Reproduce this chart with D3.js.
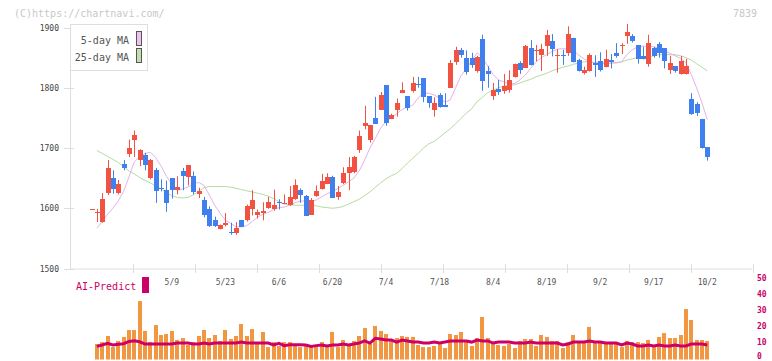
<!DOCTYPE html>
<html>
<head>
<meta charset="utf-8">
<script src="https://cdn.jsdelivr.net/npm/d3@7"></script>
<style>
  body { margin: 0; background: #fff; }
  svg { display: block; font-family: "DejaVu Sans Mono", monospace; }
</style>
</head>
<body>
<div id="chart"></div>
<script>
// trading days (2025)
const dates = [
  "4/15","4/16","4/17","4/18","4/21","4/22","4/23","4/24","4/25","4/28",
  "4/30","5/1","5/2","5/7","5/8","5/9","5/12","5/13","5/14","5/15",
  "5/16","5/19","5/20","5/21","5/22","5/23","5/26","5/27","5/28","5/29",
  "5/30","6/2","6/3","6/4","6/5","6/6","6/9","6/10","6/11","6/12",
  "6/13","6/16","6/17","6/18","6/19","6/20","6/23","6/24","6/25","6/26",
  "6/27","6/30","7/1","7/2","7/3","7/4","7/7","7/8","7/9","7/10",
  "7/11","7/14","7/15","7/16","7/17","7/18","7/22","7/23","7/24","7/25",
  "7/28","7/29","7/30","7/31","8/1","8/4","8/5","8/6","8/7","8/8",
  "8/12","8/13","8/14","8/15","8/18","8/19","8/20","8/21","8/22","8/25",
  "8/26","8/27","8/28","8/29","9/1","9/2","9/3","9/4","9/5","9/8",
  "9/9","9/10","9/11","9/12","9/16","9/17","9/18","9/19","9/22","9/24",
  "9/25","9/26","9/29","9/30","10/1","10/2"
];

const opens = [
  1598,1592,1577,1625,1651,1625,1674,1690,1713,1680,
  1688,1650,1663,1633,1631,1650,1630,1661,1652,1653,
  1624,1613,1598,1580,1565,1572,1561,1559,1580,1580,
  1599,1588,1592,1601,1599,1610,1608,1605,1616,1631,
  1620,1589,1620,1632,1640,1652,1618,1642,1658,1660,
  1696,1737,1713,1750,1763,1804,1748,1763,1792,1786,
  1795,1806,1816,1786,1763,1788,1772,1800,1842,1862,
  1850,1849,1827,1881,1827,1787,1798,1795,1796,1818,
  1841,1833,1866,1862,1855,1870,1878,1854,1855,1857,
  1883,1846,1825,1828,1841,1844,1835,1846,1858,1870,
  1886,1886,1871,1853,1840,1866,1873,1866,1829,1836,
  1823,1823,1781,1773,1748,1701
];
const highs = [
  1598,1599,1625,1680,1663,1647,1680,1714,1729,1698,
  1692,1682,1667,1648,1646,1650,1653,1667,1671,1661,
  1634,1619,1603,1586,1573,1592,1576,1577,1580,1606,
  1630,1598,1610,1619,1631,1615,1623,1637,1648,1633,
  1622,1617,1638,1657,1658,1654,1637,1668,1685,1687,
  1729,1770,1738,1785,1793,1804,1757,1782,1809,1786,
  1818,1818,1816,1786,1784,1791,1791,1846,1868,1866,
  1862,1858,1853,1888,1836,1808,1813,1823,1829,1840,
  1844,1871,1879,1871,1873,1896,1889,1864,1863,1902,
  1883,1848,1835,1857,1854,1859,1863,1856,1874,1874,
  1906,1889,1871,1868,1888,1868,1876,1866,1853,1836,
  1853,1848,1791,1776,1748,1701
];
const lows = [
  1598,1577,1576,1622,1624,1623,1663,1685,1685,1670,
  1663,1648,1609,1628,1594,1616,1623,1630,1638,1623,
  1617,1585,1569,1569,1565,1570,1556,1556,1569,1578,
  1588,1583,1580,1599,1596,1598,1607,1604,1614,1609,
  1587,1589,1619,1631,1640,1617,1614,1640,1630,1658,
  1692,1731,1709,1740,1763,1737,1748,1752,1792,1762,
  1792,1800,1776,1767,1752,1767,1768,1800,1838,1850,
  1822,1833,1825,1795,1800,1780,1788,1790,1792,1817,
  1823,1833,1837,1844,1828,1853,1852,1825,1838,1853,
  1842,1827,1822,1827,1818,1827,1834,1832,1850,1856,
  1873,1875,1840,1847,1835,1850,1850,1832,1823,1825,
  1822,1822,1755,1753,1699,1679
];
const closes = [
  1598,1594,1615,1666,1632,1640,1667,1700,1722,1696,
  1672,1680,1629,1632,1609,1631,1636,1653,1671,1627,
  1629,1588,1570,1570,1573,1575,1559,1567,1569,1604,
  1613,1593,1595,1610,1605,1608,1609,1618,1638,1622,
  1587,1613,1628,1645,1652,1617,1627,1658,1668,1685,
  1720,1741,1738,1740,1788,1742,1755,1775,1796,1766,
  1808,1805,1785,1775,1775,1768,1768,1841,1862,1855,
  1826,1838,1851,1812,1822,1796,1793,1803,1813,1840,
  1829,1869,1837,1863,1864,1888,1864,1855,1854,1889,
  1843,1828,1829,1854,1837,1829,1848,1843,1852,1871,
  1892,1878,1848,1847,1874,1853,1857,1845,1841,1827,
  1844,1836,1757,1758,1700,1685
];

// volume (x10k shares) and AI-Predict
const volumes = [
  0,9.0,10.2,14.0,7.1,10.9,13.4,17.7,17.7,35.7,
  17.1,10.2,20.8,14.6,15.2,17.1,11.5,12.7,8.4,10.2,
  14.0,17.7,12.7,14.6,10.9,17.7,12.1,14.0,21.4,14.0,
  18.3,10.2,16.5,7.1,10.2,7.8,10.2,10.2,7.8,7.1,
  8.4,7.1,7.1,10.2,7.1,16.5,7.1,11.5,8.4,10.9,
  14.0,18.9,9.0,20.2,17.1,15.2,11.5,12.7,14.0,13.4,
  13.4,8.4,7.1,7.1,7.8,9.0,6.5,15.2,14.6,16.5,
  10.2,7.8,12.7,25.8,12.7,9.0,8.4,7.8,9.0,6.5,
  10.9,12.1,12.1,7.8,14.6,13.4,10.9,10.9,6.5,10.2,
  14.6,9.6,9.6,19.6,9.6,9.6,9.0,9.0,9.0,7.1,
  10.9,10.2,10.2,9.6,11.5,7.1,13.4,15.8,12.7,12.7,
  14.6,30.7,23.9,11.5,11.5,10.9
];
const aiPredict = [
  null,7.5,8.4,9.4,8.4,8.8,9.2,10.6,11.0,10.4,
  9.0,9.0,9.0,9.0,9.0,9.0,9.6,9.6,9.6,9.0,
  9.0,9.6,9.0,9.6,9.6,9.6,9.6,9.6,10.2,9.6,
  9.6,9.6,9.6,9.6,8.4,9.4,8.0,8.6,8.6,8.6,
  8.4,7.5,8.0,8.4,7.8,8.4,8.4,9.0,8.4,9.0,
  9.6,10.9,9.6,12.5,12.1,11.5,11.5,10.2,11.5,10.9,
  10.2,10.2,9.6,9.6,10.2,9.6,10.2,10.9,10.9,10.9,
  10.9,10.2,11.5,10.9,10.9,9.6,10.2,10.2,10.2,9.6,
  9.6,9.6,10.2,9.6,9.6,9.6,9.6,9.6,8.4,9.0,
  10.2,10.2,10.2,10.9,10.2,10.2,9.6,9.6,9.6,8.4,
  9.6,9.0,7.8,7.8,8.4,7.8,8.4,7.8,7.8,8.4,
  7.8,7.8,9.0,9.0,9.0,8.4
];

// moving averages
const ma5 = [
  null,1567,1578,1590,1600,1612,1628,1652,1677,1686,
  1691,1693,1684,1670,1653,1640,1630,1632,1635,1640,
  1643,1638,1622,1605,1592,1580,1575,1569,1569,1571,
  1578,1585,1590,1593,1598,1601,1602,1605,1609,1612,
  1612,1611,1614,1619,1624,1628,1633,1638,1644,1650,
  1662,1680,1700,1716,1733,1744,1750,1757,1764,1768,
  1771,1783,1791,1791,1788,1783,1776,1780,1800,1820,
  1832,1845,1858,1850,1836,1822,1813,1810,1806,1807,
  1813,1821,1832,1843,1850,1855,1860,1864,1865,1864,
  1862,1854,1848,1843,1841,1840,1840,1841,1841,1843,
  1855,1863,1868,1869,1869,1868,1865,1862,1857,1853,
  1849,1842,1822,1800,1775,1747
];
const ma25 = [
  null,1696,1691,1686,1681,1676,1669,1662,1657,1651,
  1646,1642,1637,1632,1626,1621,1618,1617,1618,1622,
  1628,1634,1636,1636,1636,1636,1635,1633,1631,1629,
  1627,1625,1623,1620,1616,1611,1607,1606,1605,1605,
  1605,1605,1604,1602,1601,1600,1601,1603,1607,1611,
  1615,1621,1627,1635,1642,1649,1654,1658,1666,1675,
  1683,1691,1700,1707,1711,1718,1725,1732,1740,1749,
  1758,1765,1777,1784,1792,1796,1800,1803,1804,1805,
  1808,1811,1814,1818,1821,1824,1828,1831,1834,1836,
  1839,1841,1843,1843,1842,1842,1841,1841,1842,1843,
  1846,1848,1850,1850,1851,1853,1855,1855,1855,1855,
  1853,1850,1846,1840,1834,1828
];

const priceTicks = [1500, 1600, 1700, 1800, 1900];
const volumeTicks = [0, 10, 20, 30, 40, 50];
const dateLabels = ["5/9","5/23","6/6","6/20","7/4","7/18","8/4","8/19","9/2","9/17","10/2"];

class CandleChart {
  constructor(_config) {
    this.config = {
      parentElement: _config.parentElement,
      width: 772,
      height: 361,
      plotLeft: 70.5,
      plotRight: 752.5,
      firstX: 91.5,
      lastX: 707.3,
      priceTop: 27.5,
      priceBottom: 268.5,
      volTop: 278,
      volBottom: 358.5,
    };
    this.colors = {
      up: "#f25241",
      down: "#4080ee",
      ma5: "#e6b3e6",
      ma25: "#b5dba3",
      volume: "#f29741",
      ai: "#cc0066",
      axis: "#dedede",
      label: "#555",
    };
    this.data = dates.map((d, i) => ({
      date: d,
      open: opens[i], high: highs[i], low: lows[i], close: closes[i],
      volume: volumes[i], ai: aiPredict[i], ma5: ma5[i], ma25: ma25[i],
    }));
    this.initVis();
  }

  initVis() {
    let vis = this;
    const c = vis.config;

    vis.xScale = d3.scalePoint().domain(dates).range([c.firstX, c.lastX]);
    vis.yScale = d3.scaleLinear().domain([1500, 1900]).range([c.priceBottom, c.priceTop]);
    vis.volScale = d3.scaleLinear().domain([0, 50]).range([c.volBottom, c.volTop]);
    // grid divisions along the date axis
    vis.gridScale = d3.scaleLinear().domain([0, 11]).range([c.plotLeft, c.plotRight]);

    vis.svg = d3.select(c.parentElement).append("svg")
      .attr("width", c.width)
      .attr("height", c.height);

    vis.svg.append("rect").attr("width", c.width).attr("height", c.height).attr("fill", "#fff");

    vis.svg.append("text")
      .attr("x", 14).attr("y", 17)
      .attr("font-size", 10).attr("fill", "#c8c8c8")
      .text("(C)https://chartnavi.com/");

    vis.svg.append("text")
      .attr("x", 757).attr("y", 17)
      .attr("text-anchor", "end")
      .attr("font-size", 10).attr("fill", "#c8c8c8")
      .text("7839");

    vis.renderVis();
  }

  renderVis() {
    let vis = this;
    const c = vis.config;
    const col = vis.colors;
    const px = (d) => Math.round(vis.xScale(d.date));

    // price axis
    const yAxisG = vis.svg.append("g");
    yAxisG.append("line")
      .attr("x1", c.plotLeft).attr("x2", c.plotLeft)
      .attr("y1", 24).attr("y2", c.priceBottom + 0.5)
      .attr("stroke", col.axis);
    yAxisG.selectAll(".ytick").data(priceTicks).join("line")
      .attr("x1", 64).attr("x2", 74)
      .attr("y1", (d) => Math.round(vis.yScale(d)) + 0.5)
      .attr("y2", (d) => Math.round(vis.yScale(d)) + 0.5)
      .attr("stroke", col.axis);
    yAxisG.selectAll(".ylabel").data(priceTicks).join("text")
      .attr("x", 59).attr("y", (d) => vis.yScale(d) + 3)
      .attr("text-anchor", "end")
      .attr("font-size", 8).attr("fill", "#444")
      .text((d) => d);

    // date axis
    const xAxisG = vis.svg.append("g");
    xAxisG.append("line")
      .attr("x1", c.plotLeft).attr("x2", c.plotRight)
      .attr("y1", c.priceBottom + 0.5).attr("y2", c.priceBottom + 0.5)
      .attr("stroke", col.axis);
    xAxisG.selectAll(".xtick").data(d3.range(1, 12)).join("line")
      .attr("x1", (d) => Math.round(vis.gridScale(d)) + 0.5)
      .attr("x2", (d) => Math.round(vis.gridScale(d)) + 0.5)
      .attr("y1", 264).attr("y2", 273)
      .attr("stroke", col.axis);
    xAxisG.selectAll(".xlabel").data(dateLabels).join("text")
      .attr("x", (d) => vis.xScale(d))
      .attr("y", 285)
      .attr("text-anchor", "middle")
      .attr("font-size", 8).attr("fill", col.label)
      .text((d) => d);

    // moving averages
    const maLine = (key) => d3.line()
      .defined((d) => d[key] != null)
      .x((d) => vis.xScale(d.date))
      .y((d) => vis.yScale(d[key]));
    vis.svg.append("path").datum(vis.data)
      .attr("fill", "none").attr("stroke", col.ma25).attr("stroke-width", 1)
      .attr("d", maLine("ma25"));
    vis.svg.append("path").datum(vis.data)
      .attr("fill", "none").attr("stroke", col.ma5).attr("stroke-width", 1)
      .attr("d", maLine("ma5"));

    // candles
    const candles = vis.svg.append("g").selectAll("g").data(vis.data).join("g")
      .attr("fill", (d) => (d.close >= d.open ? col.up : col.down))
      .attr("stroke", (d) => (d.close >= d.open ? col.up : col.down));
    candles.append("line")
      .attr("x1", (d) => px(d) + 0.5).attr("x2", (d) => px(d) + 0.5)
      .attr("y1", (d) => vis.yScale(d.high))
      .attr("y2", (d) => vis.yScale(d.low));
    candles.append("rect")
      .attr("stroke", "none")
      .attr("x", (d) => px(d) - 2)
      .attr("width", 5)
      .attr("y", (d) => Math.round(vis.yScale(Math.max(d.open, d.close))))
      .attr("height", (d) => Math.max(1,
        Math.round(vis.yScale(Math.min(d.open, d.close))) - Math.round(vis.yScale(Math.max(d.open, d.close)))));

    // legend
    const legend = vis.svg.append("g");
    legend.append("rect")
      .attr("x", c.plotLeft).attr("y", 24.5)
      .attr("width", 77).attr("height", 46)
      .attr("fill", "#fff").attr("stroke", col.axis);
    const legendItems = [
      { label: "5-day MA", color: "#f0c0f0", y: 31 },
      { label: "25-day MA", color: "#c0e0b0", y: 48 },
    ];
    legend.selectAll("text").data(legendItems).join("text")
      .attr("x", 129).attr("y", (d) => d.y + 13)
      .attr("text-anchor", "end")
      .attr("font-size", 10).attr("fill", "#555")
      .text((d) => d.label);
    legend.selectAll(".sw").data(legendItems).join("rect")
      .attr("x", 136.5).attr("y", (d) => d.y + 0.5)
      .attr("width", 5).attr("height", 14)
      .attr("fill", (d) => d.color).attr("stroke", "#555");

    // volume panel
    vis.svg.append("g").selectAll("rect").data(vis.data.filter((d) => d.volume > 0)).join("rect")
      .attr("x", (d) => px(d) - 2)
      .attr("width", 4)
      .attr("y", (d) => vis.volScale(d.volume))
      .attr("height", (d) => c.volBottom + 1 - vis.volScale(d.volume))
      .attr("fill", col.volume);

    vis.svg.append("path").datum(vis.data)
      .attr("fill", "none").attr("stroke", col.ai).attr("stroke-width", 3)
      .attr("d", d3.line()
        .defined((d) => d.ai != null)
        .x((d) => vis.xScale(d.date))
        .y((d) => vis.volScale(d.ai)));

    vis.svg.selectAll(".vlabel").data(volumeTicks).join("text")
      .attr("x", 757).attr("y", (d) => Math.min(vis.volScale(d) + 3, 359))
      .attr("font-size", 8).attr("font-weight", "bold").attr("fill", col.ai)
      .text((d) => d);

    vis.svg.append("text")
      .attr("x", 76).attr("y", 290)
      .attr("font-size", 10).attr("fill", col.ai)
      .text("AI-Predict");
    vis.svg.append("rect")
      .attr("x", 142).attr("y", 277)
      .attr("width", 7).attr("height", 16)
      .attr("fill", col.ai);
  }
}

new CandleChart({ parentElement: "#chart" });
</script>
</body>
</html>
